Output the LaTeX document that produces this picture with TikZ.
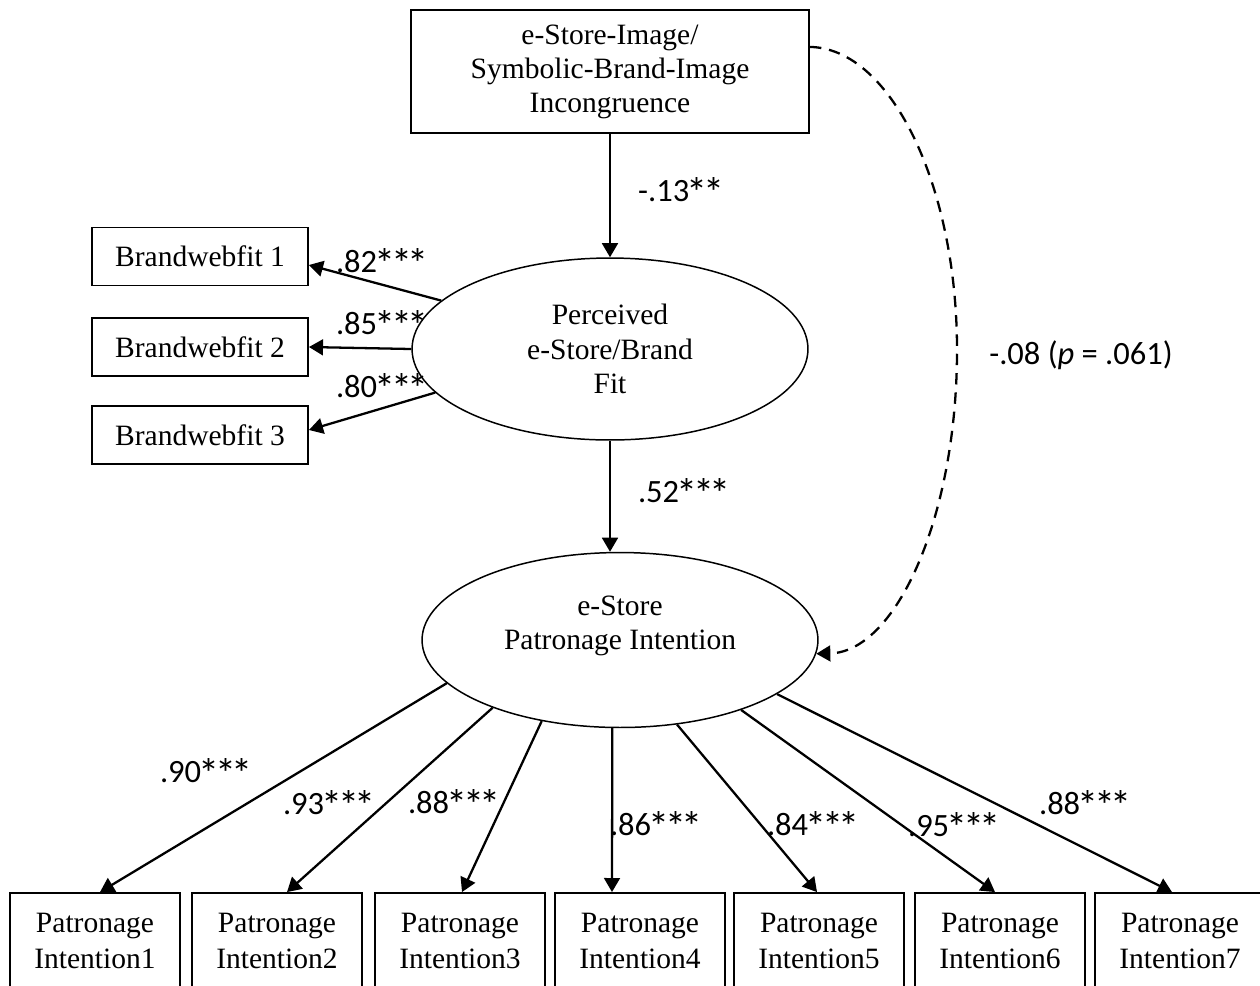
\documentclass[tikz,border=0pt]{standalone}
\usepackage{fontspec}
\setmainfont{Liberation Serif}
\newfontfamily\labfont{Carlito}
\usetikzlibrary{shapes.geometric,arrows.meta,calc}
\newcommand\sigst{\makebox[0.5em]{\raisebox{-0.17em}{\scalebox{1.3}{*}}}}
\begin{document}
\begin{tikzpicture}[x=0.02cm,y=-0.02cm,
  box/.style={draw, line width=1.1pt, inner sep=0pt, align=center, font=\fontsize{16.8}{19.3}\selectfont},
  pbox/.style={box, minimum width=3.4cm, minimum height=1.92cm, font=\fontsize{16.8}{21}\selectfont},
  bbox/.style={box, minimum width=4.32cm, minimum height=1.16cm},
  lat/.style={draw, ellipse, line width=0.85pt, inner sep=0pt, align=center, font=\fontsize{16.8}{19.6}\selectfont},
  arr/.style={line width=1.3pt, -{Triangle[length=8pt,width=9pt]}},
  darr/.style={line width=1.3pt, dash pattern=on 6.5pt off 4.5pt, -{Triangle[length=8pt,width=9pt]}},
  coef/.style={font=\labfont\fontsize{18.5}{22}\selectfont, inner sep=0pt}]
\useasboundingbox (0,0) rectangle (1260,985);

% nodes
\node[box, minimum width=7.96cm, minimum height=2.46cm] (top) at (610,71.5)
  {e-Store-Image/\\Symbolic-Brand-Image\\Incongruence};
\node[lat, minimum width=7.92cm, minimum height=3.64cm] (e1) at (610,349)
  {Perceived\\e-Store/Brand\\Fit};
\node[lat, minimum width=7.92cm, minimum height=3.5cm] (e2) at (620,640)
  {e-Store\\Patronage Intention\\\mbox{}};

\node[bbox] (b1) at (200,256.5) {Brandwebfit 1};
\node[bbox] (b2) at (200,347) {Brandwebfit 2};
\node[bbox] (b3) at (200,435) {Brandwebfit 3};

\node[pbox] (p1) at (95,941) {Patronage\\Intention1};
\node[pbox] (p2) at (277,941) {Patronage\\Intention2};
\node[pbox] (p3) at (460,941) {Patronage\\Intention3};
\node[pbox] (p4) at (640,941) {Patronage\\Intention4};
\node[pbox] (p5) at (819,941) {Patronage\\Intention5};
\node[pbox] (p6) at (1000,941) {Patronage\\Intention6};
\node[pbox] (p7) at (1180,941) {Patronage\\Intention7};

% structural paths
\draw[arr] (top.south) -- (e1.north);
\draw[arr] (e1.south) -- (e1.south |- e2.north);

% measurement paths (fit)
\draw[arr] (e1.164.7) -- ($(b1.east)+(0,8.5)$);
\draw[arr] (e1.west) -- (b2.east);
\draw[arr] (e1.194) -- ($(b3.east)+(0,-5)$);

% measurement paths (patronage)
\draw[arr] (e2.194.6) -- ($(p1.north)+(5,0)$);
\draw[arr] (e2.208) -- ($(p2.north)+(10,0)$);
\draw[arr] (e2.226.4) -- ($(p3.north)+(2,0)$);
\draw[arr] (e2.265) -- ($(p4.north)+(-28,0)$);
\draw[arr] (e2.304.6) -- ($(p5.north)+(-2,0)$);
\draw[arr] (e2.330) -- ($(p6.north)+(-5,0)$);
\draw[arr] (e2.341.6) -- ($(p7.north)+(-8,0)$);

% direct effect (dashed)
\coordinate (dmid) at (957,350);
\draw[darr] (top.7) .. controls (890,48) and (957,184) .. (dmid)
  .. controls (957,517) and (896,652) .. (e2.-4);

% coefficients
\node[coef] (c1) at (680,192) {-.13\sigst\sigst};
\node[coef] (c2) at (381,263) {.82\sigst\sigst\sigst};
\node[coef] (c3) at (381,325) {.85\sigst\sigst\sigst};
\node[coef] (c4) at (381,388) {.80\sigst\sigst\sigst};
\node[coef] (c5) at (683,493) {.52\sigst\sigst\sigst};
\node[coef] (c6) at (1081,355) {-.08 ({\itshape p} = .061)};
\node[coef] (c7) at (205,773) {.90\sigst\sigst\sigst};
\node[coef] (c8) at (328,805) {.93\sigst\sigst\sigst};
\node[coef] (c9) at (453,804) {.88\sigst\sigst\sigst};
\node[coef] (c10) at (655,826) {.86\sigst\sigst\sigst};
\node[coef] (c11) at (812,826) {.84\sigst\sigst\sigst};
\node[coef] (c12) at (953,827) {.95\sigst\sigst\sigst};
\node[coef] (c13) at (1084,805) {.88\sigst\sigst\sigst};
\end{tikzpicture}
\end{document}
